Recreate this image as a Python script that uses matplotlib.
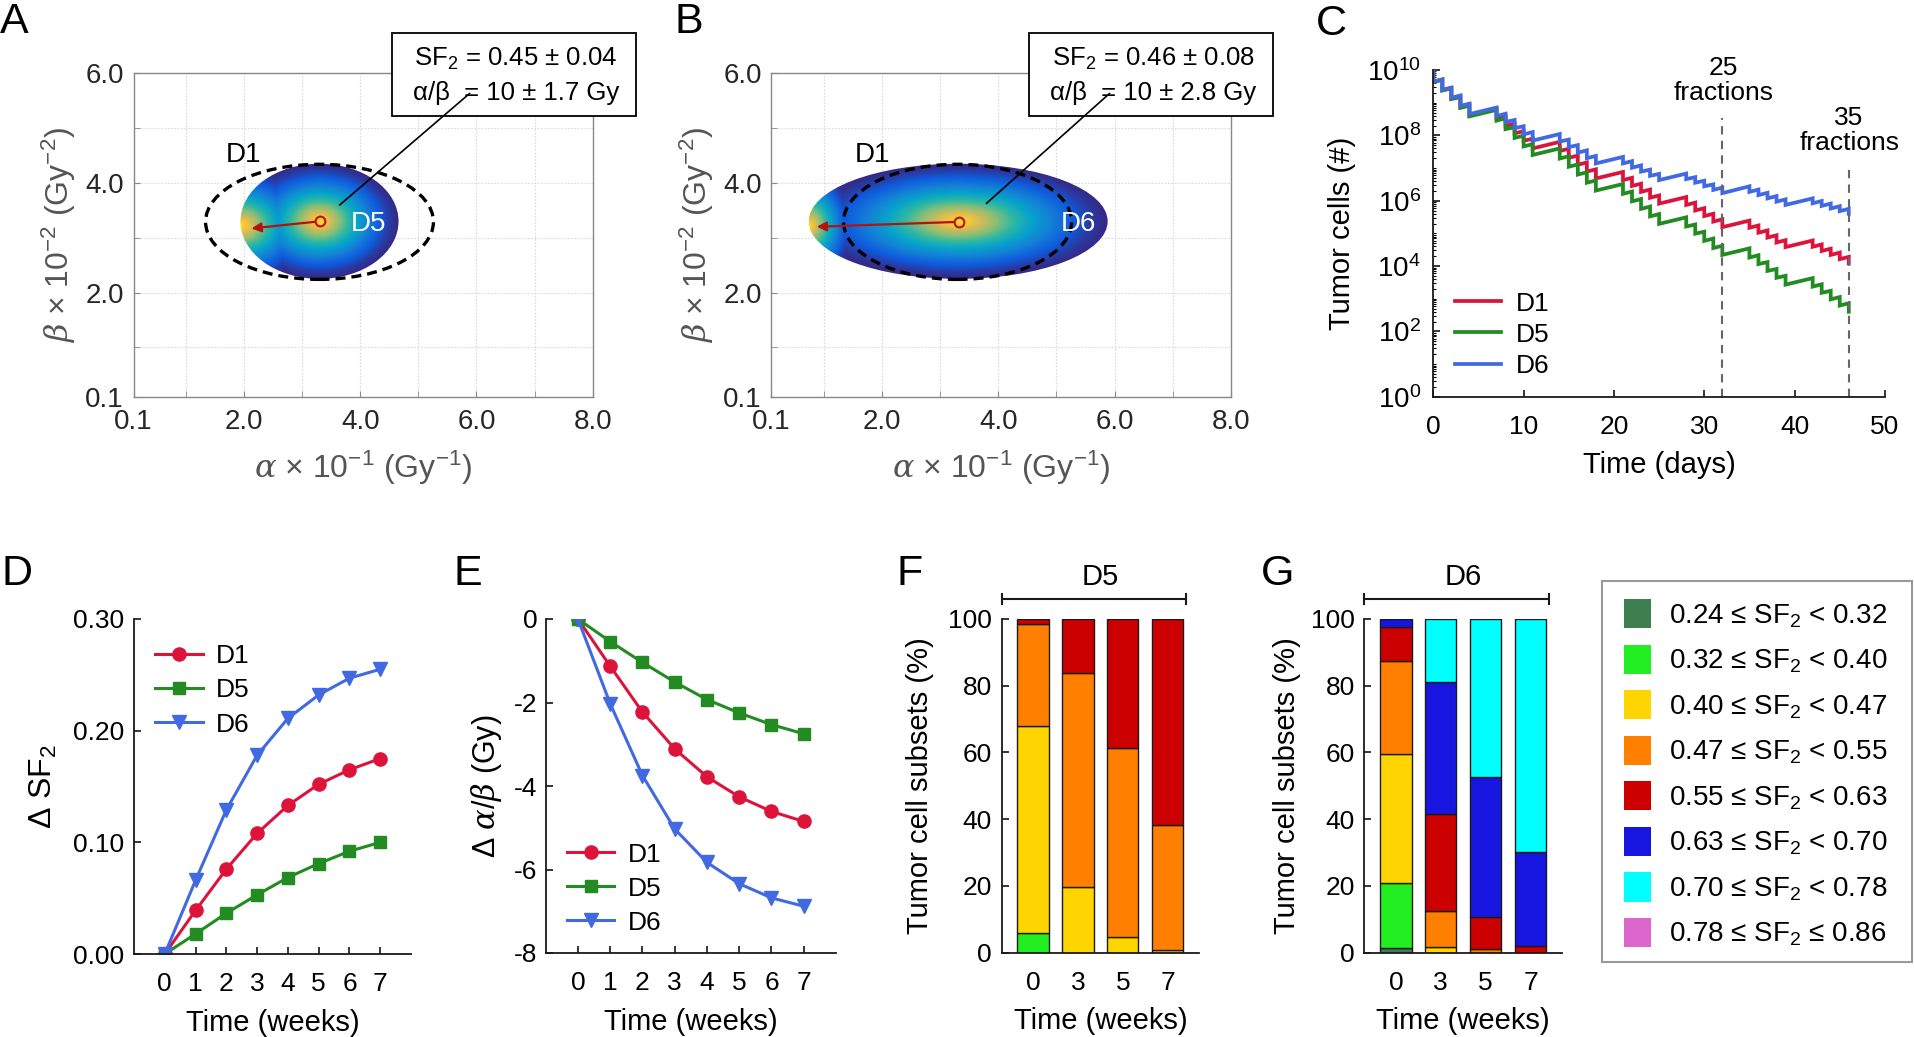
import numpy as np
import matplotlib
matplotlib.use('Agg')
import matplotlib.pyplot as plt
from matplotlib.patches import Ellipse, Rectangle, Patch
from matplotlib.colors import LinearSegmentedColormap
from matplotlib.ticker import FixedLocator, LogLocator, NullFormatter

plt.rcParams['font.family'] = ['Liberation Sans', 'DejaVu Sans']
plt.rcParams['mathtext.fontset'] = 'custom'
plt.rcParams['mathtext.rm'] = 'Liberation Sans'
plt.rcParams['mathtext.it'] = 'DejaVu Serif:italic'
plt.rcParams['mathtext.bf'] = 'Liberation Sans:bold'
plt.rcParams['axes.unicode_minus'] = False
plt.rcParams['xtick.direction'] = 'in'
plt.rcParams['ytick.direction'] = 'in'
plt.rcParams['font.size'] = 19

TICK = 19
LABEL = 21
LEG = 19

# ---------------- data ----------------
# A/B: (centre alpha, centre beta, half width, half height) in axis units
d1_region = (3.30, 3.29, 1.96, 1.05)
d5_region = (3.30, 3.30, 1.36, 1.05)
d6_region = (3.31, 3.30, 2.57, 1.05)
d5_edge_peak = (1.96, 3.22, 1.25, 1.05)
d6_edge_peak = (0.74, 3.22, 0.78, 1.05)
d5_shift = [(3.31, 3.30), (2.13, 3.17)]
d6_shift = [(3.33, 3.29), (0.88, 3.20)]
d5_box = ['SF$_2$ = 0.45 ± 0.04', 'α/β  = 10 ± 1.7 Gy']
d6_box = ['SF$_2$ = 0.46 ± 0.08', 'α/β  = 10 ± 2.8 Gy']

# C: fraction days and log10(tumor cells) just before / after each fraction
frac_days = [0, 1, 2, 3, 4, 7, 8, 9, 10, 11, 14, 15, 16, 17, 18, 21, 22, 23, 24, 25,
             28, 29, 30, 31, 32, 35, 36, 37, 38, 39, 42, 43, 44, 45, 46]
d1_pre = [9.96, 9.71, 9.45, 9.20, 8.94, 8.82, 8.59, 8.36, 8.13, 7.90, 7.80, 7.59, 7.38, 7.17, 6.96,
          6.88, 6.70, 6.52, 6.34, 6.16, 6.11, 5.94, 5.77, 5.60, 5.43, 5.39, 5.24, 5.09, 4.94, 4.79,
          4.78, 4.66, 4.53, 4.41, 4.28]
d1_post = [9.64, 9.39, 9.13, 8.88, 8.62, 8.52, 8.29, 8.06, 7.83, 7.60, 7.52, 7.31, 7.10, 6.89, 6.68,
           6.63, 6.45, 6.27, 6.09, 5.91, 5.87, 5.70, 5.53, 5.36, 5.19, 5.17, 5.02, 4.87, 4.72, 4.58,
           4.59, 4.46, 4.34, 4.21, 4.08]
d5_pre = [9.96, 9.70, 9.44, 9.17, 8.91, 8.78, 8.52, 8.25, 7.99, 7.73, 7.60, 7.36, 7.11, 6.87, 6.62,
          6.51, 6.28, 6.05, 5.82, 5.59, 5.49, 5.27, 5.05, 4.84, 4.62, 4.54, 4.33, 4.12, 3.91, 3.70,
          3.63, 3.44, 3.24, 3.05, 2.86]
d5_post = [9.63, 9.37, 9.11, 8.84, 8.58, 8.45, 8.19, 7.92, 7.66, 7.40, 7.29, 7.04, 6.80, 6.55, 6.31,
           6.21, 5.98, 5.75, 5.52, 5.29, 5.21, 4.99, 4.77, 4.55, 4.34, 4.26, 4.06, 3.85, 3.64, 3.43,
           3.37, 3.18, 2.98, 2.79, 2.60]
d6_pre = [9.96, 9.71, 9.46, 9.22, 8.97, 8.85, 8.66, 8.47, 8.28, 8.10, 8.04, 7.87, 7.70, 7.54, 7.37,
          7.34, 7.21, 7.08, 6.95, 6.82, 6.83, 6.72, 6.61, 6.50, 6.40, 6.44, 6.34, 6.24, 6.14, 6.04,
          6.07, 5.99, 5.91, 5.83, 5.75]
d6_post = [9.64, 9.39, 9.15, 8.90, 8.65, 8.59, 8.41, 8.22, 8.03, 7.84, 7.81, 7.64, 7.47, 7.30, 7.14,
           7.14, 7.01, 6.89, 6.76, 6.63, 6.66, 6.55, 6.44, 6.33, 6.23, 6.27, 6.17, 6.07, 5.97, 5.87,
           5.92, 5.84, 5.76, 5.68, 5.60]
fraction_marks = [32, 46]

# D/E
weeks = [0, 1, 2, 3, 4, 5, 6, 7]
dsf2_d1 = [0, 0.039, 0.076, 0.108, 0.133, 0.152, 0.165, 0.175]
dsf2_d5 = [0, 0.018, 0.0365, 0.053, 0.0685, 0.081, 0.092, 0.100]
dsf2_d6 = [0, 0.066, 0.129, 0.178, 0.211, 0.232, 0.247, 0.255]
dab_d1 = [0, -1.13, -2.23, -3.11, -3.78, -4.26, -4.61, -4.85]
dab_d5 = [0, -0.54, -1.04, -1.51, -1.93, -2.25, -2.53, -2.75]
dab_d6 = [0, -2.03, -3.75, -5.03, -5.83, -6.34, -6.68, -6.88]

# F/G: percent of cells in each SF2 bin (rows = bins, cols = weeks 0,3,5,7)
bar_weeks = ['0', '3', '5', '7']
sf2_bins = ['0.24 ≤ SF$_2$ < 0.32', '0.32 ≤ SF$_2$ < 0.40', '0.40 ≤ SF$_2$ < 0.47',
            '0.47 ≤ SF$_2$ < 0.55', '0.55 ≤ SF$_2$ < 0.63', '0.63 ≤ SF$_2$ < 0.70',
            '0.70 ≤ SF$_2$ < 0.78', '0.78 ≤ SF$_2$ ≤ 0.86']
d5_subsets = [[0, 0, 0, 0],
              [6.0, 0, 0, 0],
              [61.9, 19.8, 4.8, 0.8],
              [30.5, 63.9, 56.4, 37.5],
              [1.6, 16.3, 38.8, 61.7],
              [0, 0, 0, 0],
              [0, 0, 0, 0],
              [0, 0, 0, 0]]
d6_subsets = [[1.5, 0, 0, 0],
              [19.3, 0, 0, 0],
              [38.7, 1.6, 0, 0],
              [27.9, 10.9, 1.0, 0],
              [10.1, 29.0, 9.8, 2.0],
              [2.5, 39.5, 41.9, 28.3],
              [0, 19.0, 47.3, 69.7],
              [0, 0, 0, 0]]

sf2_colors = ['#3E7F50', '#22EE22', '#FFD500', '#FF8000', '#CC0000', '#1616E0', '#00FFFF', '#DD66CC']
c_red, c_green, c_blue = '#DC143C', '#228B22', '#4169E1'

# ---------------- figure ----------------
W, H = 1914, 1037
fig = plt.figure(figsize=(W / 100, H / 100), dpi=100)


def add_ax(l, t, r, b):
    return fig.add_axes([l / W, 1 - b / H, (r - l) / W, (b - t) / H])


parula = LinearSegmentedColormap.from_list(
    'parula', ['#352A87', '#0F5CDD', '#1481D6', '#06A4CA', '#2EB7A4',
               '#87BF77', '#D1BB59', '#FEC832', '#F9FB0E'])


def density_panel(ax, region, peak, shift, tag, tag_xy, d1_xy, conn, box, lines, boxtext_x):
    cx, cy, rx, ry = region
    xs = np.linspace(cx - rx, cx + rx, 600)
    ys = np.linspace(cy - ry, cy + ry, 300)
    X, Y = np.meshgrid(xs, ys)
    v1 = 1 - np.hypot((X - cx) / rx, (Y - cy) / ry)
    px, py, prx, pry = peak
    v2 = 1 - np.hypot((X - px) / prx, (Y - py) / pry)
    V = np.clip(np.maximum(v1, v2), 0, 1) ** 1.4
    im = ax.imshow(V, extent=(cx - rx, cx + rx, cy - ry, cy + ry), origin='lower', cmap=parula,
                   vmin=0, vmax=1.06, aspect='auto', interpolation='bilinear', zorder=2)
    clip = Ellipse((cx, cy), 2 * rx, 2 * ry, facecolor='none', edgecolor='none')
    ax.add_patch(clip)
    im.set_clip_path(clip)

    ex, ey, erx, ery = d1_region
    ax.add_patch(Ellipse((ex, ey), 2 * erx, 2 * ery, fill=False, edgecolor='black',
                         lw=2.4, ls=(0, (3, 1.8)), zorder=3))
    ax.annotate('', xy=shift[1], xytext=shift[0],
                arrowprops=dict(arrowstyle='-|>', color='#B3130F', lw=1.6,
                                mutation_scale=14, shrinkA=0, shrinkB=0), zorder=4)
    ax.plot(*shift[0], 'o', ms=7, mfc='#F5D03A', mec='#C0100A', mew=1.5, zorder=5)
    ax.text(tag_xy[0], tag_xy[1], tag, color='white', ha='center', va='baseline', fontsize=20, zorder=5)
    ax.text(d1_xy[0], d1_xy[1], 'D1', color='black', ha='center', va='baseline', fontsize=20, zorder=5)

    bx0, by0, bx1, by1 = box
    ax.add_patch(Rectangle((bx0, by0), bx1 - bx0, by1 - by0, facecolor='white', edgecolor='black',
                           lw=1.3, clip_on=False, zorder=6))
    ax.text(boxtext_x, 6.14, lines[0], ha='center', va='baseline', fontsize=18.5, zorder=7)
    ax.text(boxtext_x, 5.51, lines[1], ha='center', va='baseline', fontsize=18.5, zorder=7)
    ax.plot([conn[0][0], conn[1][0]], [conn[0][1], conn[1][1]], color='black', lw=1.2,
            clip_on=False, zorder=8)

    for g in range(1, 8):
        ax.axvline(g, color='#d9d9d9', lw=0.8, ls=(0, (1.5, 1.5)), zorder=0)
    for g in range(1, 6):
        ax.axhline(g, color='#d9d9d9', lw=0.8, ls=(0, (1.5, 1.5)), zorder=0)
    ax.set_xlim(0.1, 8.0)
    ax.set_ylim(0.1, 6.0)
    ax.set_xticks([0.1, 2, 4, 6, 8])
    ax.set_xticklabels(['0.1', '2.0', '4.0', '6.0', '8.0'])
    ax.set_xticks([1, 3, 5, 7], minor=True)
    ax.set_yticks([0.1, 2, 4, 6])
    ax.set_yticklabels(['0.1', '2.0', '4.0', '6.0'])
    ax.set_yticks([1, 3, 5], minor=True)
    ax.tick_params(which='both', color='#888888', length=4, labelcolor='#262626', labelsize=20)
    ax.tick_params(axis='x', pad=9)
    ax.tick_params(axis='y', pad=7)
    for s in ax.spines.values():
        s.set_color('#888888')
        s.set_linewidth(1.0)
    ax.set_xlabel(r'$\alpha$ × 10$^{-1}$ (Gy$^{-1}$)', color='#555555', fontsize=23, labelpad=10)
    ax.set_ylabel(r'$\beta$ × 10$^{-2}$ (Gy$^{-2}$)', color='#555555', fontsize=23, labelpad=5)


axA = add_ax(133.5, 73.3, 592.7, 396.7)
density_panel(axA, d5_region, d5_edge_peak, d5_shift, 'D5', (4.14, 3.12), (2.0, 4.39),
              [(3.65, 3.60), (5.88, 5.63)], (4.55, 5.22, 8.74, 6.74), d5_box, 6.68)
axB = add_ax(771.4, 73.3, 1231.0, 396.7)
density_panel(axB, d6_region, d6_edge_peak, d6_shift, 'D6', (5.38, 3.12), (1.84, 4.39),
              [(3.80, 3.63), (5.91, 5.63)], (4.53, 5.22, 8.72, 6.74), d6_box, 6.66)


def plain_axes(ax):
    for side in ['top', 'right']:
        ax.spines[side].set_visible(False)
    for side in ['left', 'bottom']:
        ax.spines[side].set_linewidth(1.3)
        ax.spines[side].set_color('#1a1a1a')
    ax.tick_params(which='major', length=5, width=1.1, labelsize=TICK)
    ax.tick_params(which='minor', length=2.5, width=0.8)


# ---- C
axC = add_ax(1433.3, 70, 1884.9, 396.7)
t_path = np.repeat(frac_days, 2)
for lab, pre, post, col in [('D1', d1_pre, d1_post, c_red), ('D5', d5_pre, d5_post, c_green),
                            ('D6', d6_pre, d6_post, c_blue)]:
    y_path = np.column_stack([pre, post]).ravel()
    axC.plot(t_path, 10.0 ** y_path, color=col, lw=2.7, label=lab, solid_joinstyle='miter')
axC.set_yscale('log')
axC.set_xlim(0, 50)
axC.set_ylim(1, 1e10)
axC.yaxis.set_major_locator(FixedLocator([1e0, 1e2, 1e4, 1e6, 1e8, 1e10]))
axC.yaxis.set_minor_locator(LogLocator(base=10, subs=np.arange(1, 10), numticks=100))
axC.yaxis.set_minor_formatter(NullFormatter())
axC.set_xticks([0, 10, 20, 30, 40, 50])
plain_axes(axC)
axC.tick_params(axis='y', labelsize=20)
axC.tick_params(axis='x', pad=13)
axC.tick_params(axis='y', pad=9)
axC.vlines(fraction_marks[0], 1, 10 ** 8.53, colors='#666666', lw=1.5, linestyles=(0, (4, 3)))
axC.vlines(fraction_marks[1], 1, 10 ** 7.03, colors='#666666', lw=1.5, linestyles=(0, (4, 3)))
axC.text(32.1, 10 ** 9.84, '25', ha='center', va='baseline', fontsize=LEG)
axC.text(32.1, 10 ** 9.08, 'fractions', ha='center', va='baseline', fontsize=LEG)
axC.text(46.0, 10 ** 8.32, '35', ha='center', va='baseline', fontsize=LEG)
axC.text(46.1, 10 ** 7.55, 'fractions', ha='center', va='baseline', fontsize=LEG)
axC.set_xlabel('Time (days)', fontsize=LABEL, labelpad=9)
axC.set_ylabel('Tumor cells (#)', fontsize=LABEL, labelpad=8)
axC.legend(loc='upper left', bbox_to_anchor=(0.048, 0.322), frameon=False, fontsize=LEG,
           handlelength=1.76, handletextpad=0.56, labelspacing=0.27, borderpad=0, borderaxespad=0)

# ---- D
axD = add_ax(134, 619, 411, 954)
axD.plot(weeks, dsf2_d1, '-o', color=c_red, lw=2.2, ms=9.5, label='D1')
axD.plot(weeks, dsf2_d5, '-s', color=c_green, lw=2.2, ms=8, label='D5')
axD.plot(weeks, dsf2_d6, '-v', color=c_blue, lw=2.2, ms=10, label='D6')
axD.set_xlim(-1, 8)
axD.set_ylim(0, 0.30)
axD.set_xticks(weeks)
axD.set_yticks([0, 0.1, 0.2, 0.3])
axD.set_yticklabels(['0.00', '0.10', '0.20', '0.30'])
plain_axes(axD)
axD.tick_params(axis='x', pad=13)
axD.tick_params(axis='y', pad=7)
axD.set_xlabel('Time (weeks)', fontsize=LABEL, labelpad=9)
axD.set_ylabel('Δ SF$_2$', fontsize=23, labelpad=10)
axD.legend(loc='upper left', bbox_to_anchor=(0.076, 0.924), frameon=False, fontsize=LEG,
           handlelength=1.8, handletextpad=0.5, labelspacing=0.38, borderpad=0, borderaxespad=0)

# ---- E
axE = add_ax(545.7, 619, 836, 953)
axE.plot(weeks, dab_d1, '-o', color=c_red, lw=2.2, ms=9.5, label='D1')
axE.plot(weeks, dab_d5, '-s', color=c_green, lw=2.2, ms=8, label='D5')
axE.plot(weeks, dab_d6, '-v', color=c_blue, lw=2.2, ms=10, label='D6')
axE.set_xlim(-1, 8)
axE.set_ylim(-8, 0)
axE.set_xticks(weeks)
axE.set_yticks([0, -2, -4, -6, -8])
plain_axes(axE)
axE.tick_params(axis='x', pad=13)
axE.tick_params(axis='y', pad=6)
axE.set_xlabel('Time (weeks)', fontsize=LABEL, labelpad=9)
axE.set_ylabel(r'Δ $\alpha/\beta$ (Gy)', fontsize=22, labelpad=7)
axE.legend(loc='lower left', bbox_to_anchor=(0.073, 0.055), frameon=False, fontsize=LEG,
           handlelength=1.8, handletextpad=0.5, labelspacing=0.38, borderpad=0, borderaxespad=0)


# ---- F / G
def subset_panel(ax, values, tag, lpad):
    x = np.arange(len(bar_weeks))
    bottom = np.zeros(len(bar_weeks))
    for vals, col in zip(values, sf2_colors):
        vals = np.array(vals, float)
        keep = vals > 0
        ax.bar(x[keep], vals[keep], width=0.7, bottom=bottom[keep], color=col,
               edgecolor='#1a1a1a', linewidth=1.0, zorder=2)
        bottom += vals
    ax.set_xlim(-0.7, 3.7)
    ax.set_ylim(0, 100)
    ax.set_xticks(x)
    ax.set_xticklabels(bar_weeks)
    ax.set_yticks([0, 20, 40, 60, 80, 100])
    plain_axes(ax)
    ax.tick_params(axis='x', pad=13)
    ax.tick_params(axis='y', pad=7)
    ax.set_xlabel('Time (weeks)', fontsize=LABEL, labelpad=9)
    ax.set_ylabel('Tumor cell subsets (%)', fontsize=LABEL, labelpad=lpad)
    ax.plot([-0.7, 3.4], [106, 106], color='#1a1a1a', lw=1.5, clip_on=False)
    ax.plot([-0.7, -0.7], [104.6, 107.4], color='#1a1a1a', lw=1.5, clip_on=False)
    ax.plot([3.4, 3.4], [104.6, 107.4], color='#1a1a1a', lw=1.5, clip_on=False)
    ax.text(1.5, 110.2, tag, ha='center', va='baseline', fontsize=21)


axF = add_ax(1001.7, 619, 1199, 952.7)
subset_panel(axF, d5_subsets, 'D5', 10)
axG = add_ax(1364.4, 619, 1562, 952.7)
subset_panel(axG, d6_subsets, 'D6', 7)

handles = [Patch(facecolor=c, edgecolor='none') for c in sf2_colors]
fig.legend(handles, sf2_bins, loc='upper left', bbox_to_anchor=(1623.6 / W, 1 - 599 / H),
           frameon=False, fontsize=20, handlelength=1.0, handleheight=1.25,
           labelspacing=0.54, handletextpad=0.62, borderpad=0, borderaxespad=0)
fig.add_artist(Rectangle((1602 / W, 1 - 962 / H), (1912 - 1602) / W, (962 - 581) / H,
                         transform=fig.transFigure, fill=False, edgecolor='#999999', lw=1.5))

# panel letters
for letter, x, base in [('A', 0, 33.3), ('B', 674.7, 33.3), ('C', 1315.9, 35),
                        ('D', 1.7, 585), ('E', 453.3, 585), ('F', 896.7, 585), ('G', 1260.6, 585)]:
    fig.text(x / W, 1 - base / H, letter, ha='left', va='baseline', fontsize=31)

fig.savefig('out.png', dpi=100)
